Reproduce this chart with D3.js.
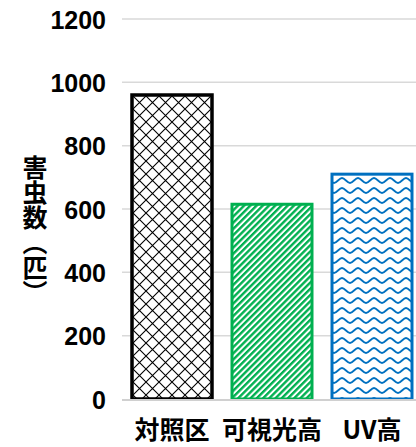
<!DOCTYPE html>
<html>
<head>
<meta charset="utf-8">
<script src="https://cdn.jsdelivr.net/npm/d3@7/dist/d3.min.js"></script>
<style>
  html, body { margin: 0; padding: 0; background: #fff; }
  svg { display: block; }
</style>
</head>
<body>
<script>
// Pest counts per treatment
const categories = ["対照区", "可視光高", "UV高"];
const values = [960, 615, 710];
const yTicks = [0, 200, 400, 600, 800, 1000, 1200];
const yTitle = "害虫数（匹）";

const W = 416, H = 447;
const svg = d3.select("body").append("svg").attr("width", W).attr("height", H);
const defs = svg.append("defs");

// Fill patterns: lattice, diagonal stripes, waves
const lattice = defs.append("pattern").attr("id", "pat0")
  .attr("patternUnits", "userSpaceOnUse").attr("width", 13).attr("height", 13)
  .attr("x", 133).attr("y", 96);
lattice.append("rect").attr("width", 13).attr("height", 13).attr("fill", "#fff");
lattice.append("path").attr("d", "M0,0L13,13M0,13L13,0")
  .attr("stroke", "#000").attr("stroke-width", 1.1).attr("fill", "none");

const stripes = defs.append("pattern").attr("id", "pat1")
  .attr("patternUnits", "userSpaceOnUse").attr("width", 4.4).attr("height", 10)
  .attr("patternTransform", "rotate(45)");
stripes.append("rect").attr("width", 4.4).attr("height", 10).attr("fill", "#fff");
stripes.append("rect").attr("width", 2.4).attr("height", 10).attr("fill", "#00B050");

const waves = defs.append("pattern").attr("id", "pat2")
  .attr("patternUnits", "userSpaceOnUse").attr("width", 16).attr("height", 10)
  .attr("x", 334).attr("y", 176);
waves.append("rect").attr("width", 16).attr("height", 10).attr("fill", "#fff");
waves.append("path").attr("d", "M0,7C2.7,7 5.3,2 8,2C10.7,2 13.3,7 16,7")
  .attr("stroke", "#0070C0").attr("stroke-width", 1.8).attr("fill", "none");

const fills = ["url(#pat0)", "url(#pat1)", "url(#pat2)"];
const strokes = ["#000", "#00B050", "#0070C0"];
const strokeW = [3.5, 3, 3];

const x = d3.scaleBand().domain(categories).range([122, 422])
  .paddingInner(0.2).paddingOuter(0.1);
const y = d3.scaleLinear().domain([0, 1200]).range([399, 19]);

// Gridlines
svg.append("g").selectAll("line").data(yTicks.filter(d => d > 0)).join("line")
  .attr("x1", 122).attr("x2", W)
  .attr("y1", d => y(d)).attr("y2", d => y(d))
  .attr("stroke", "#d9d9d9").attr("stroke-width", 1.5);

// Bars
svg.append("g").selectAll("rect").data(values).join("rect")
  .attr("x", (d, i) => x(categories[i]))
  .attr("y", d => y(d))
  .attr("width", x.bandwidth())
  .attr("height", d => y(0) - y(d))
  .attr("fill", (d, i) => fills[i])
  .attr("stroke", (d, i) => strokes[i])
  .attr("stroke-width", (d, i) => strokeW[i]);

// Baseline
svg.append("line").attr("x1", 122).attr("x2", W)
  .attr("y1", y(0) + 1).attr("y2", y(0) + 1)
  .attr("stroke", "#d0d0d0").attr("stroke-width", 2);

// Y axis labels
const yAxis = d3.axisLeft(y).tickValues(yTicks).tickFormat(d3.format("d"))
  .tickSize(0).tickPadding(0);
const gy = svg.append("g").attr("transform", "translate(106,0)").call(yAxis);
gy.select(".domain").remove();
gy.selectAll("text")
  .attr("font-family", "'Liberation Sans', Arial, sans-serif")
  .attr("font-weight", "bold").attr("font-size", 25).attr("fill", "#000")
  .attr("dy", "0.36em");

// X axis labels
const xAxis = d3.axisBottom(x).tickSize(0).tickPadding(0);
const gx = svg.append("g").attr("transform", "translate(0,430)").call(xAxis);
gx.select(".domain").remove();
gx.selectAll("text")
  .attr("font-family", "'Noto Sans CJK JP', sans-serif")
  .attr("font-weight", "bold").attr("font-size", 25).attr("fill", "#000")
  .attr("dy", "0.35em");

// Y axis title, written vertically
svg.append("text")
  .attr("x", 35).attr("y", 155)
  .attr("writing-mode", "vertical-rl")
  .style("writing-mode", "vertical-rl")
  .attr("font-family", "'Noto Sans CJK JP', sans-serif")
  .attr("font-weight", "bold").attr("font-size", 25).attr("fill", "#000")
  .text(yTitle);
</script>
</body>
</html>
